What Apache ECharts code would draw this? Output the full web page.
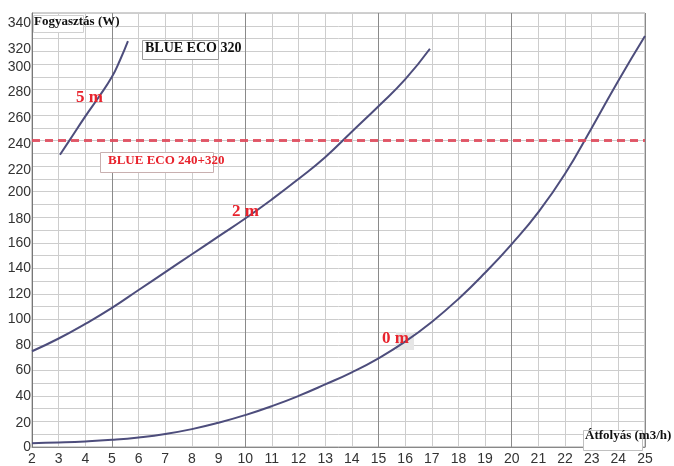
<!DOCTYPE html>
<html>
<head>
<meta charset="utf-8">
<script src="https://cdn.jsdelivr.net/npm/echarts@6/dist/echarts.min.js"></script>
<style>html,body{margin:0;padding:0;background:#fff}#c{width:674px;height:466px}</style>
</head>
<body>
<div id="c"></div>
<script>
// Data
const curve0m = [[2,3],[3,3.5],[4,4.3],[5,5.6],[6,7.5],[7,10.2],[8,14],[9,19],[10,25],[11,32],[12,40],[13,49],[14,58.5],[15,69.5],[16,82.5],[17,98],[18,116],[19,136.5],[20,159],[21,184],[22,214],[23,250],[24,287],[25,322]];
const curve2m = [[2,75],[3,85],[4,96.5],[5,109],[6,123],[7,137],[8,151],[9,165],[10,179],[11,194],[12,210],[13,227],[14,247],[15,267],[16,288],[16.93,312]];
const curve5m = [[3.05,229],[3.4,240],[4,259],[4.5,274],[5,290],[5.3,303],[5.6,318]];
const limitLine = 240;
const xTicks = {min: 2, max: 25, step: 1};
const yTicks = {min: 0, max: 340, step: 10, labelStep: 20};
// small vertical nudges of y tick labels as printed in the source (px)
const yLabelNudge = {340: 10, 320: 11, 300: 3, 280: 3, 260: 3, 240: 3, 220: 4, 180: 2, 20: 2};
const labelTexts = {y: 'Fogyasztás (W)', x: 'Átfolyás (m3/h)', eco320: 'BLUE ECO 320', eco240: 'BLUE ECO 240+320', c5: '5 m', c2: '2 m', c0: '0 m'};

const chart = echarts.init(document.getElementById('c'), null, {renderer: 'canvas'});
const curveStyle = {color: '#4d4d7c', width: 2};
const serif = '"Liberation Serif", "DejaVu Serif", serif';
const sans = '"Liberation Sans", Arial, sans-serif';
const light = '#cdcdcd', dark = '#8a8a8a';

const rich = {};
for (let s = 0; s <= 12; s++) rich['s' + s] = {padding: [2 * s, 0, 0, 0], color: '#333', fontFamily: sans, fontSize: 14};

const option = {
  animation: false,
  backgroundColor: '#fff',
  grid: {left: 32, right: 29, top: 13, bottom: 16, show: true, borderColor: '#a0a0a0', borderWidth: 1},
  xAxis: {
    type: 'value', min: xTicks.min, max: xTicks.max, interval: xTicks.step, offset: 4,
    axisLine: {show: true, lineStyle: {color: '#888', width: 1}},
    axisTick: {show: false},
    axisLabel: {color: '#333', fontFamily: sans, fontSize: 14, margin: 1},
    splitLine: {show: true, lineStyle: {color: [light, light, light, dark, light], width: 1}}
  },
  yAxis: {
    type: 'value', min: yTicks.min, max: yTicks.max, interval: yTicks.step,
    axisLine: {show: true, lineStyle: {color: '#777', width: 1}},
    axisTick: {show: false},
    axisLabel: {color: '#333', fontFamily: sans, fontSize: 14, margin: 1, showMaxLabel: true, rich: rich,
      formatter: v => (v % yTicks.labelStep === 0) ? '{s' + (yLabelNudge[v] || 0) + '|' + v + '}' : ''},
    splitLine: {show: true, lineStyle: {color: light, width: 1}}
  },
  series: [
    {type: 'line', data: curve0m, smooth: true, showSymbol: false, lineStyle: curveStyle, z: 3},
    {type: 'line', data: curve2m, smooth: true, showSymbol: false, lineStyle: curveStyle, z: 3},
    {type: 'line', data: curve5m, smooth: true, showSymbol: false, lineStyle: curveStyle, z: 3,
      markLine: {silent: true, symbol: 'none', label: {show: false},
        lineStyle: {color: '#e04a5c', width: 3, type: [8, 5], opacity: 0.9},
        data: [{yAxis: limitLine}]}}
  ],
  graphic: [
    {type: 'rect', left: 33, top: 15, shape: {width: 50, height: 17}, style: {fill: '#fff', stroke: '#d0d0d0', lineWidth: 1}, z: 10},
    {type: 'text', left: 34, top: 15, style: {text: labelTexts.y, font: 'bold 13px ' + serif, fill: '#111'}, z: 11},
    {type: 'rect', left: 142, top: 40, shape: {width: 76, height: 19}, style: {fill: '#fff', stroke: '#9a9a9a', lineWidth: 1}, z: 10},
    {type: 'text', left: 145, top: 41, style: {text: labelTexts.eco320, font: 'bold 14px ' + serif, fill: '#111'}, z: 11},
    {type: 'rect', left: 100, top: 152, shape: {width: 113, height: 20}, style: {fill: '#fff', stroke: '#c8b0b0', lineWidth: 1}, z: 10},
    {type: 'text', left: 108, top: 154, style: {text: labelTexts.eco240, font: 'bold 13px ' + serif, fill: '#e8232d'}, z: 11},
    {type: 'text', left: 76, top: 89, style: {text: labelTexts.c5, font: 'bold 17px ' + serif, fill: '#e8232d'}, z: 11},
    {type: 'text', left: 232, top: 203, style: {text: labelTexts.c2, font: 'bold 17px ' + serif, fill: '#e8232d'}, z: 11},
    {type: 'rect', left: 396, top: 332, shape: {width: 18, height: 18}, style: {fill: '#e6e6e6'}, z: 1},
    {type: 'text', left: 382, top: 330, style: {text: labelTexts.c0, font: 'bold 17px ' + serif, fill: '#e8232d'}, z: 11},
    {type: 'rect', left: 583, top: 430, shape: {width: 59, height: 20}, style: {fill: '#fff', stroke: '#c0c0c0', lineWidth: 1}, z: 10},
    {type: 'text', left: 585, top: 429, style: {text: labelTexts.x, font: 'bold 13px ' + serif, fill: '#111'}, z: 11}
  ]
};
chart.setOption(option);
</script>
</body>
</html>
